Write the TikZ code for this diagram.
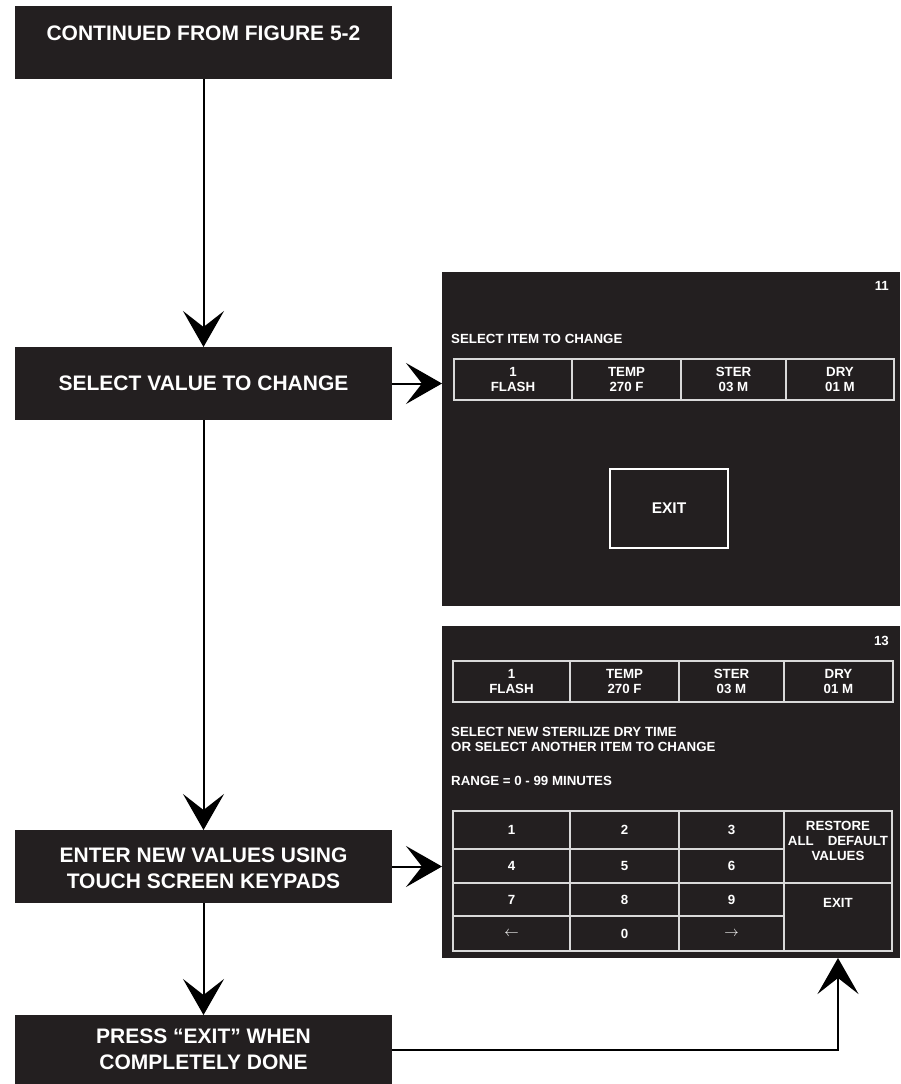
\documentclass[tikz,border=0pt]{standalone}
\usepackage{fontspec}
\setmainfont{Liberation Sans}
\usetikzlibrary{arrows.meta,calc}
\definecolor{panelblack}{HTML}{231F20}
\definecolor{panelline}{HTML}{D9D9D9}

\begin{document}
\begin{tikzpicture}[x=1pt,y=-1pt,
    flowbox/.style={fill=panelblack,text=white,font=\bfseries\fontsize{21}{26}\selectfont,
      minimum width=377pt,minimum height=73pt,inner sep=0pt,outer sep=0pt,align=center},
    scrbox/.style={fill=panelblack,minimum width=458pt,inner sep=0pt,outer sep=0pt},
    keycell/.style={draw=panelline,line width=1.5pt,text=white,
      font=\bfseries\fontsize{13.3}{15}\selectfont,inner sep=0pt,align=center},
    scrtext/.style={text=white,font=\bfseries\fontsize{13.3}{15}\selectfont,
      inner sep=0pt,anchor=west,align=left},
    link/.style={line width=2pt,-{Stealth[length=36pt,width=41pt,inset=16pt]}}]
    \useasboundingbox (0,0) rectangle (900,1084);
    % flow boxes on the left
    \node[flowbox,text height=34.5pt,text depth=38.5pt] (cont) at (203.5,42.5) {CONTINUED FROM FIGURE 5-2};
    \node[flowbox] (pick) at (203.5,383.5) {SELECT VALUE TO CHANGE};
    \node[flowbox,text height=58pt,text depth=15pt] (enter) at (203.5,866.5) {ENTER NEW VALUES USING\\TOUCH SCREEN KEYPADS};
    \node[flowbox,minimum height=69pt] (done) at (203.5,1049.5) {PRESS “EXIT” WHEN\\COMPLETELY DONE};
    % screen 11
    \node[scrbox,minimum height=334pt] (scrA) at (671,439) {};
    \node[scrtext,anchor=east] (numA) at (889,286) {11};
    \node[scrtext] (askA) at (451,339) {SELECT ITEM TO CHANGE};
    \node[keycell,minimum width=118pt,minimum height=41pt] (a1) at (513,379.5) {1\\FLASH};
    \node[keycell,minimum width=109pt,minimum height=41pt] (a2) at (626.5,379.5) {TEMP\\270 F};
    \node[keycell,minimum width=105pt,minimum height=41pt] (a3) at (733.5,379.5) {STER\\03 M};
    \node[keycell,minimum width=108pt,minimum height=41pt] (a4) at (840,379.5) {DRY\\01 M};
    \node[keycell,draw=white,line width=2.5pt,minimum width=118pt,minimum height=79pt,
      font=\bfseries\fontsize{15.5}{18}\selectfont] (exitA) at (669,508.5) {EXIT};
    % screen 13
    \node[scrbox,minimum height=332pt] (scrB) at (671,792) {};
    \node[scrtext,anchor=east] (numB) at (889,641) {13};
    \node[keycell,minimum width=117pt,minimum height=41pt] (b1) at (511.5,681.5) {1\\FLASH};
    \node[keycell,minimum width=109pt,minimum height=41pt] (b2) at (624.5,681.5) {TEMP\\270 F};
    \node[keycell,minimum width=105pt,minimum height=41pt] (b3) at (731.5,681.5) {STER\\03 M};
    \node[keycell,minimum width=109pt,minimum height=41pt] (b4) at (838.5,681.5) {DRY\\01 M};
    \node[scrtext] (askB) at (451,739.5) {SELECT NEW STERILIZE DRY TIME\\OR SELECT ANOTHER ITEM TO CHANGE};
    \node[scrtext] (range) at (451,781) {RANGE = 0 - 99 MINUTES};
    % keypad
    \node[keycell,minimum width=117pt,minimum height=38pt] (k1) at (511.5,830) {1};
    \node[keycell,minimum width=109pt,minimum height=38pt] (k2) at (624.5,830) {2};
    \node[keycell,minimum width=105pt,minimum height=38pt] (k3) at (731.5,830) {3};
    \node[keycell,minimum width=117pt,minimum height=34pt] (k4) at (511.5,866) {4};
    \node[keycell,minimum width=109pt,minimum height=34pt] (k5) at (624.5,866) {5};
    \node[keycell,minimum width=105pt,minimum height=34pt] (k6) at (731.5,866) {6};
    \node[keycell,minimum width=117pt,minimum height=33pt] (k7) at (511.5,899.5) {7};
    \node[keycell,minimum width=109pt,minimum height=33pt] (k8) at (624.5,899.5) {8};
    \node[keycell,minimum width=105pt,minimum height=33pt] (k9) at (731.5,899.5) {9};
    \node[keycell,minimum width=117pt,minimum height=35pt] (kBack) at (511.5,933.5) {$\leftarrow$};
    \node[keycell,minimum width=109pt,minimum height=35pt] (k0) at (624.5,933.5) {0};
    \node[keycell,minimum width=105pt,minimum height=35pt] (kFwd) at (731.5,933.5) {$\rightarrow$};
    \node[keycell,minimum width=108pt,text height=49pt,text depth=23pt] (kRst) at (838,847)
      {RESTORE\\ALL\hspace{14pt}DEFAULT\\VALUES};
    \node[keycell,minimum width=108pt,text height=24pt,text depth=44pt] (kExit) at (838,917) {EXIT};
    % connectors
    \draw[link] (cont.south) -- (pick.north);
    \draw[link] (pick.south) -- (enter.north);
    \draw[link] (enter.south) -- (done.north);
    \draw[link] (pick.east) -- (pick.east -| scrA.west);
    \draw[link] (enter.east) -- (enter.east -| scrB.west);
    \draw[link] (done.east) -| (kExit.south |- scrB.south);
\end{tikzpicture}
\end{document}
